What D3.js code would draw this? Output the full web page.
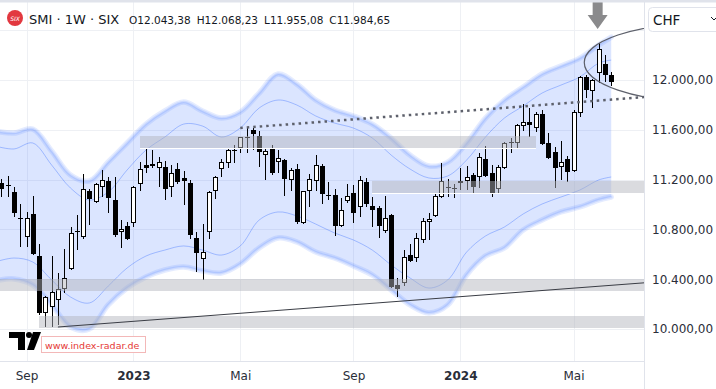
<!DOCTYPE html>
<html>
<head>
<meta charset="utf-8">
<script src="https://cdn.jsdelivr.net/npm/d3@7"></script>
<style>
  html, body { margin: 0; padding: 0; background: #fff; }
  svg { display: block; }
</style>
</head>
<body>
<svg id="chart" width="716" height="389"></svg>
<script>
// weekly SMI candles, first bar = week of 2022-08-08
var firstWeek = "2022-08-08";
var opens  = [11173,11150,11100,10891,10739,10924,10586,10129,10177,10233,10321,10482,10779,10739,11108,11020,11140,11189,11036,10779,10827,10851,11165,11317,11325,11293,11301,11140,11285,11213,11173,10731,10563,10779,11108,11285,11333,11426,11454,11534,11598,11550,11397,11454,11341,11357,11197,11285,10851,11108,11189,11309,11076,11076,10827,11028,11092,10980,11181,10988,10972,10787,10916,10353,10370,10594,10570,10715,10859,10908,11060,11136,11136,11189,11189,11237,11221,11365,11253,11124,11293,11490,11494,11630,11662,11614,11727,11494,11422,11301,11365,11269,11735,12024,11911,12056,12128,12043.38];
var highs  = [11205,11229,11140,11004,10940,11068,10683,10265,10586,10450,10643,10819,10916,11245,11124,11173,11277,11221,11221,10875,10859,11148,11341,11446,11438,11381,11349,11317,11333,11269,11197,10779,10843,11108,11229,11365,11454,11478,11546,11614,11614,11590,11454,11478,11438,11365,11293,11325,11112,11245,11397,11325,11181,11124,11052,11165,11156,11229,11213,11060,10988,11068,10924,10410,10635,10683,10771,10891,10932,11084,11333,11205,11165,11293,11309,11253,11414,11470,11317,11317,11502,11534,11646,11807,11775,11743,11759,11574,11462,11510,11389,11759,12032,12040,12008,12297,12201,12068.23];
var lows   = [11060,11060,10900,10659,10659,10598,10113,10016,10016,10030,10289,10474,10635,10723,10835,11012,11060,10932,10739,10651,10715,10819,11108,11253,11293,11140,11036,11060,11165,10996,10723,10458,10394,10723,11044,11221,11293,11333,11414,11414,11438,11301,11197,11237,11253,11068,11108,10843,10845,10980,11108,11004,11036,10747,10820,11012,10851,10900,10980,10819,10731,10771,10330,10257,10345,10540,10538,10691,10715,10900,11052,11060,11052,11116,11116,11092,11132,11221,11060,11092,11285,11414,11446,11590,11542,11582,11478,11365,11132,11197,11181,11262,11703,11855,11775,11976,11984,11955.08];
var closes = [11124,11155,10932,10880,10891,10602,10129,10257,10297,10321,10410,10771,10787,11124,11044,11165,11197,11052,10755,10803,10723,11140,11285,11293,11309,11341,11124,11253,11181,11189,10755,10610,10618,11100,11221,11341,11438,11434,11542,11542,11566,11422,11430,11253,11373,11205,11277,10859,11108,11205,11317,11084,11068,10827,10956,11068,10932,11197,11004,10956,10827,10891,10337,10321,10578,10546,10731,10867,10883,11068,11189,11144,11132,11173,11221,11140,11381,11229,11084,11301,11494,11498,11638,11662,11638,11727,11486,11373,11293,11341,11261,11743,12024,11919,12000,12249,12040,11984.65];

// envelope bands, read every third week
var bandDates = ["2022-08-01","2022-08-22","2022-09-12","2022-10-03","2022-10-24","2022-11-14","2022-12-05","2022-12-26","2023-01-16","2023-02-06","2023-02-27","2023-03-20","2023-04-10","2023-05-01","2023-05-22","2023-06-12","2023-07-03","2023-07-24","2023-08-14","2023-09-04","2023-09-25","2023-10-16","2023-11-06","2023-11-27","2023-12-18","2024-01-08","2024-01-29","2024-02-19","2024-03-11","2024-04-01","2024-04-22","2024-05-13","2024-06-03","2024-06-17"];
var upperOuter = [11590,11574,11606,11429,11237,11189,11341,11494,11646,11751,11823,11751,11694,11743,11895,12048,11967,11839,11759,11711,11646,11534,11397,11309,11341,11494,11694,11839,11943,12048,12112,12176,12281,12345];
var upperInner = [11470,11446,11494,11317,11132,11036,11100,11277,11437,11542,11646,11630,11542,11614,11775,11839,11799,11711,11654,11614,11534,11397,11285,11213,11229,11357,11542,11694,11791,11895,11959,12024,12136,12160];
var lowerInner = [10538,10570,10538,10394,10257,10209,10345,10490,10586,10634,10667,10634,10594,10667,10875,10940,10908,10843,10771,10715,10634,10514,10410,10329,10394,10618,10747,10819,10924,11004,11060,11116,11197,11221];
var lowerOuter = [10386,10402,10353,10193,10016,10000,10193,10329,10418,10474,10498,10466,10450,10522,10651,10731,10699,10618,10570,10506,10434,10313,10193,10129,10193,10434,10586,10651,10795,10875,10940,10980,11036,11060];

// grey support / resistance zones (null end = open to the right)
var zoneTops    = [11553, 11191, 10402, 10107];
var zoneBottoms = [11451, 11095, 10306, 10008];
var zoneStarts  = ["2023-01-09", "2023-09-25", "2022-07-25", "2022-09-19"];
var zoneEnds    = ["2024-03-25", null, null, null];
var zoneEdge    = [true, true, false, false];

// drawn lines
var resistance = [{date: "2023-05-01", value: 11614}, {date: "2024-06-03", value: 11835}];
var support    = [{date: "2022-10-10", value: 10016}, {date: "2024-06-17", value: 10351}];
var ellipseCenter = {date: "2024-09-23", value: 12140, days: 128, points: 313};
var arrowWeek = "2024-06-03";

var tickWeeks  = ["2022-09-05", "2023-01-02", "2023-05-01", "2023-09-04", "2024-01-01", "2024-05-06"];
var tickLabels = ["Sep", "2023", "Mai", "Sep", "2024", "Mai"];
var priceTicks = [10000, 10400, 10800, 11200, 11600, 12000];
var gridPrices = [10000, 10400, 10800, 11200, 11600, 12000, 12400];

var parse = d3.timeParse("%Y-%m-%d");
var de = d3.formatLocale({decimal: ",", thousands: ".", grouping: [3], currency: ["", ""]});
var fmt = de.format(",.2f");

var width = 716, height = 389, plotW = 644, plotH = 361;
var svg = d3.select("#chart");

var x = d3.scaleTime()
	.domain([parse("2022-09-05"), parse("2024-05-06")])
	.range([26.5, 573.5]);
var y = d3.scaleLinear()
	.domain([10000, 12000])
	.range([329, 80]);

var start = parse(firstWeek);
var candles = opens.map(function(o, i) {
	return {date: d3.timeDay.offset(start, 7 * i), o: o, h: highs[i], l: lows[i], c: closes[i]};
});

svg.append("defs").append("clipPath").attr("id", "plotClip")
	.append("rect").attr("x", 0).attr("y", 0).attr("width", plotW).attr("height", plotH);

// grid
var grid = svg.append("g").attr("shape-rendering", "crispEdges");
grid.selectAll("line.h").data(gridPrices).join("line")
	.attr("x1", 0).attr("x2", plotW)
	.attr("y1", function(d) { return Math.round(y(d)) + 0.5; })
	.attr("y2", function(d) { return Math.round(y(d)) + 0.5; })
	.attr("stroke", "#eef0f4");
grid.selectAll("line.v").data(tickWeeks).join("line")
	.attr("x1", function(d) { return Math.round(x(parse(d))) + 0.5; })
	.attr("x2", function(d) { return Math.round(x(parse(d))) + 0.5; })
	.attr("y1", 0).attr("y2", plotH)
	.attr("stroke", "#eef0f4");

var plot = svg.append("g").attr("clip-path", "url(#plotClip)");

// band
var band = bandDates.map(function(d, i) {
	return {date: parse(d), uo: upperOuter[i], ui: upperInner[i], li: lowerInner[i], lo: lowerOuter[i]};
});
var curve = d3.curveCatmullRom.alpha(0.5);
plot.append("path").datum(band)
	.attr("d", d3.area().curve(curve)
		.x(function(d) { return x(d.date); })
		.y0(function(d) { return y(d.lo); })
		.y1(function(d) { return y(d.uo); }))
	.attr("fill", "rgba(41,98,255,0.17)");

["uo", "lo"].forEach(function(k) {
	var ln = d3.line().curve(curve).x(function(d) { return x(d.date); }).y(function(d) { return y(d[k]); });
	plot.append("path").datum(band).attr("d", ln).attr("fill", "none")
		.attr("stroke", "rgba(41,98,255,0.12)").attr("stroke-width", 5.5).attr("stroke-linecap", "round");
	plot.append("path").datum(band).attr("d", ln).attr("fill", "none")
		.attr("stroke", "rgba(41,98,255,0.13)").attr("stroke-width", 2.5).attr("stroke-linecap", "round");
});
["ui", "li"].forEach(function(k) {
	plot.append("path").datum(band)
		.attr("d", d3.line().curve(curve).x(function(d) { return x(d.date); }).y(function(d) { return y(d[k]); }))
		.attr("fill", "none").attr("stroke", "rgba(41,98,255,0.35)").attr("stroke-width", 1);
});

// candles
var cg = plot.append("g").attr("shape-rendering", "crispEdges");
cg.selectAll("line").data(candles).join("line")
	.attr("x1", function(d) { return Math.round(x(d.date)) + 0.5; })
	.attr("x2", function(d) { return Math.round(x(d.date)) + 0.5; })
	.attr("y1", function(d) { return Math.round(y(d.h)); })
	.attr("y2", function(d) { return Math.round(y(d.l)); })
	.attr("stroke", "#000");
cg.selectAll("rect").data(candles).join("rect")
	.attr("x", function(d) { return Math.round(x(d.date)) - 1.5; })
	.attr("y", function(d) { return Math.round(y(Math.max(d.o, d.c))) + 0.5; })
	.attr("width", 4)
	.attr("height", function(d) {
		return Math.max(0.01, Math.round(y(Math.min(d.o, d.c))) - Math.round(y(Math.max(d.o, d.c))) - 1);
	})
	.attr("fill", function(d) { return d.c >= d.o ? "#fff" : "#000"; })
	.attr("stroke", "#000");

// zones
var zones = zoneTops.map(function(t, i) {
	return {top: t, bottom: zoneBottoms[i], start: parse(zoneStarts[i]),
		end: zoneEnds[i] ? parse(zoneEnds[i]) : null, edge: zoneEdge[i]};
});
var zg = plot.append("g").attr("shape-rendering", "crispEdges");
zg.selectAll("rect").data(zones).join("rect")
	.attr("x", function(d) { return x(d.start); })
	.attr("width", function(d) { return (d.end ? x(d.end) : plotW) - x(d.start); })
	.attr("y", function(d) { return y(d.top); })
	.attr("height", function(d) { return y(d.bottom) - y(d.top); })
	.attr("fill", "rgba(178,180,188,0.48)");
zg.selectAll("line").data(zones.filter(function(d) { return d.edge; })).join("line")
	.attr("x1", function(d) { return x(d.start); })
	.attr("x2", function(d) { return d.end ? x(d.end) : plotW; })
	.attr("y1", function(d) { return Math.round(y(d.bottom)) + 0.5; })
	.attr("y2", function(d) { return Math.round(y(d.bottom)) + 0.5; })
	.attr("stroke", "#fff").attr("stroke-width", 1.5);

// trend lines, extended to the right edge
function extended(p) {
	var t1 = +parse(p[0].date), t2 = +parse(p[1].date), te = +x.invert(plotW);
	var ve = p[0].value + (p[1].value - p[0].value) * (te - t1) / (t2 - t1);
	return [[x(parse(p[0].date)), y(p[0].value)], [plotW, y(ve)]];
}
plot.append("path").attr("d", d3.line()(extended(support)))
	.attr("stroke", "#3a3d45").attr("stroke-width", 1).attr("fill", "none");
plot.append("path").attr("d", d3.line()(extended(resistance)))
	.attr("stroke", "#5d606b").attr("stroke-width", 2.5).attr("stroke-dasharray", "2.5,4")
	.attr("fill", "none");

// ellipse
var ec = parse(ellipseCenter.date);
var ecx = x(ec), ecy = y(ellipseCenter.value);
plot.append("ellipse")
	.attr("cx", ecx).attr("cy", ecy)
	.attr("rx", x(d3.timeDay.offset(ec, ellipseCenter.days)) - ecx)
	.attr("ry", y(ellipseCenter.value - ellipseCenter.points) - ecy)
	.attr("fill", "none").attr("stroke", "#5d606b").attr("stroke-width", 1.2);

// arrow above the top
var aw = candles.filter(function(d) { return +d.date === +parse(arrowWeek); })[0];
var ax = x(aw.date) - 1, atip = y(aw.h) - 14;
plot.append("path")
	.attr("d", "M" + (ax - 5) + "," + (atip - 27) + "h10v13h5l-10,14l-10,-14h5z")
	.attr("fill", "#8a8a8c");

// frame
svg.append("rect").attr("x", 0).attr("y", 0).attr("width", width).attr("height", 2.5).attr("fill", "#e0e3eb");
svg.append("line").attr("x1", plotW + 0.5).attr("x2", plotW + 0.5).attr("y1", 2).attr("y2", height)
	.attr("stroke", "#e0e3eb");
svg.append("line").attr("x1", 0).attr("x2", plotW).attr("y1", plotH + 0.5).attr("y2", plotH + 0.5)
	.attr("stroke", "#e0e3eb");

// axes
var yAxis = svg.append("g").attr("transform", "translate(" + plotW + ",0)")
	.call(d3.axisRight(y).tickValues(priceTicks).tickFormat(fmt).tickSize(0).tickPadding(8));
yAxis.select(".domain").remove();
yAxis.selectAll("text").attr("font-family", "DejaVu Sans").attr("font-size", 12).attr("fill", "#2a2e39");

var xAxis = svg.append("g").attr("transform", "translate(0," + plotH + ")")
	.call(d3.axisBottom(x).tickValues(tickWeeks.map(parse))
		.tickFormat(function(d, i) { return tickLabels[i]; }).tickSize(0).tickPadding(10));
xAxis.select(".domain").remove();
xAxis.selectAll("text")
	.attr("font-family", "DejaVu Sans").attr("font-size", 12).attr("fill", "#2a2e39")
	.attr("font-weight", function(d, i) { return /^\d+$/.test(tickLabels[i]) ? "bold" : "normal"; });

// currency box
svg.append("rect").attr("x", 648.5).attr("y", 7.5).attr("width", 80).attr("height", 24).attr("rx", 4)
	.attr("fill", "#fff").attr("stroke", "#e0e3eb");
svg.append("text").attr("x", 653).attr("y", 24.5).text("CHF")
	.attr("font-family", "DejaVu Sans").attr("font-size", 13.5).attr("fill", "#131722");
svg.append("path").attr("d", "M711,17l3,3l3,-3").attr("fill", "none").attr("stroke", "#131722");

// header
var last = candles[candles.length - 1];
var hdr = svg.append("g");
hdr.append("circle").attr("cx", 15).attr("cy", 18).attr("r", 8).attr("fill", "#e2383f");
hdr.append("text").attr("x", 15).attr("y", 20.5).attr("text-anchor", "middle").text("SIX")
	.attr("font-family", "DejaVu Sans").attr("font-style", "italic").attr("font-size", 6)
	.attr("fill", "#fff");
hdr.append("text").attr("x", 29).attr("y", 23.5).text("SMI · 1W · SIX")
	.attr("font-family", "DejaVu Sans").attr("font-size", 13).attr("fill", "#131722");
var ohlc = [["O", last.o], ["H", last.h], ["L", last.l], ["C", last.c]];
var ht = hdr.append("text").attr("x", 129).attr("y", 23.5)
	.attr("font-family", "DejaVu Sans").attr("font-size", 10.5).attr("fill", "#131722");
ht.selectAll("tspan").data(ohlc).join("tspan")
	.attr("dx", function(d, i) { return i ? 6 : 0; })
	.text(function(d) { return d[0] + fmt(d[1]); });

// watermark
var wm = svg.append("g").attr("fill", "#000");
wm.append("path").attr("d", "M9,332h16v18h-7v-12h-9z");
wm.append("circle").attr("cx", 29).attr("cy", 335).attr("r", 3);
wm.append("path").attr("d", "M33,332h8l-7,18h-7z");
svg.append("rect").attr("x", 41.5).attr("y", 336.5).attr("width", 104).attr("height", 16)
	.attr("fill", "#fff").attr("stroke", "#f3b8b8");
svg.append("text").attr("x", 45).attr("y", 348.5).text("www.index-radar.de")
	.attr("font-family", "DejaVu Sans").attr("font-size", 9.5).attr("fill", "#e53935");
</script>
</body>
</html>
